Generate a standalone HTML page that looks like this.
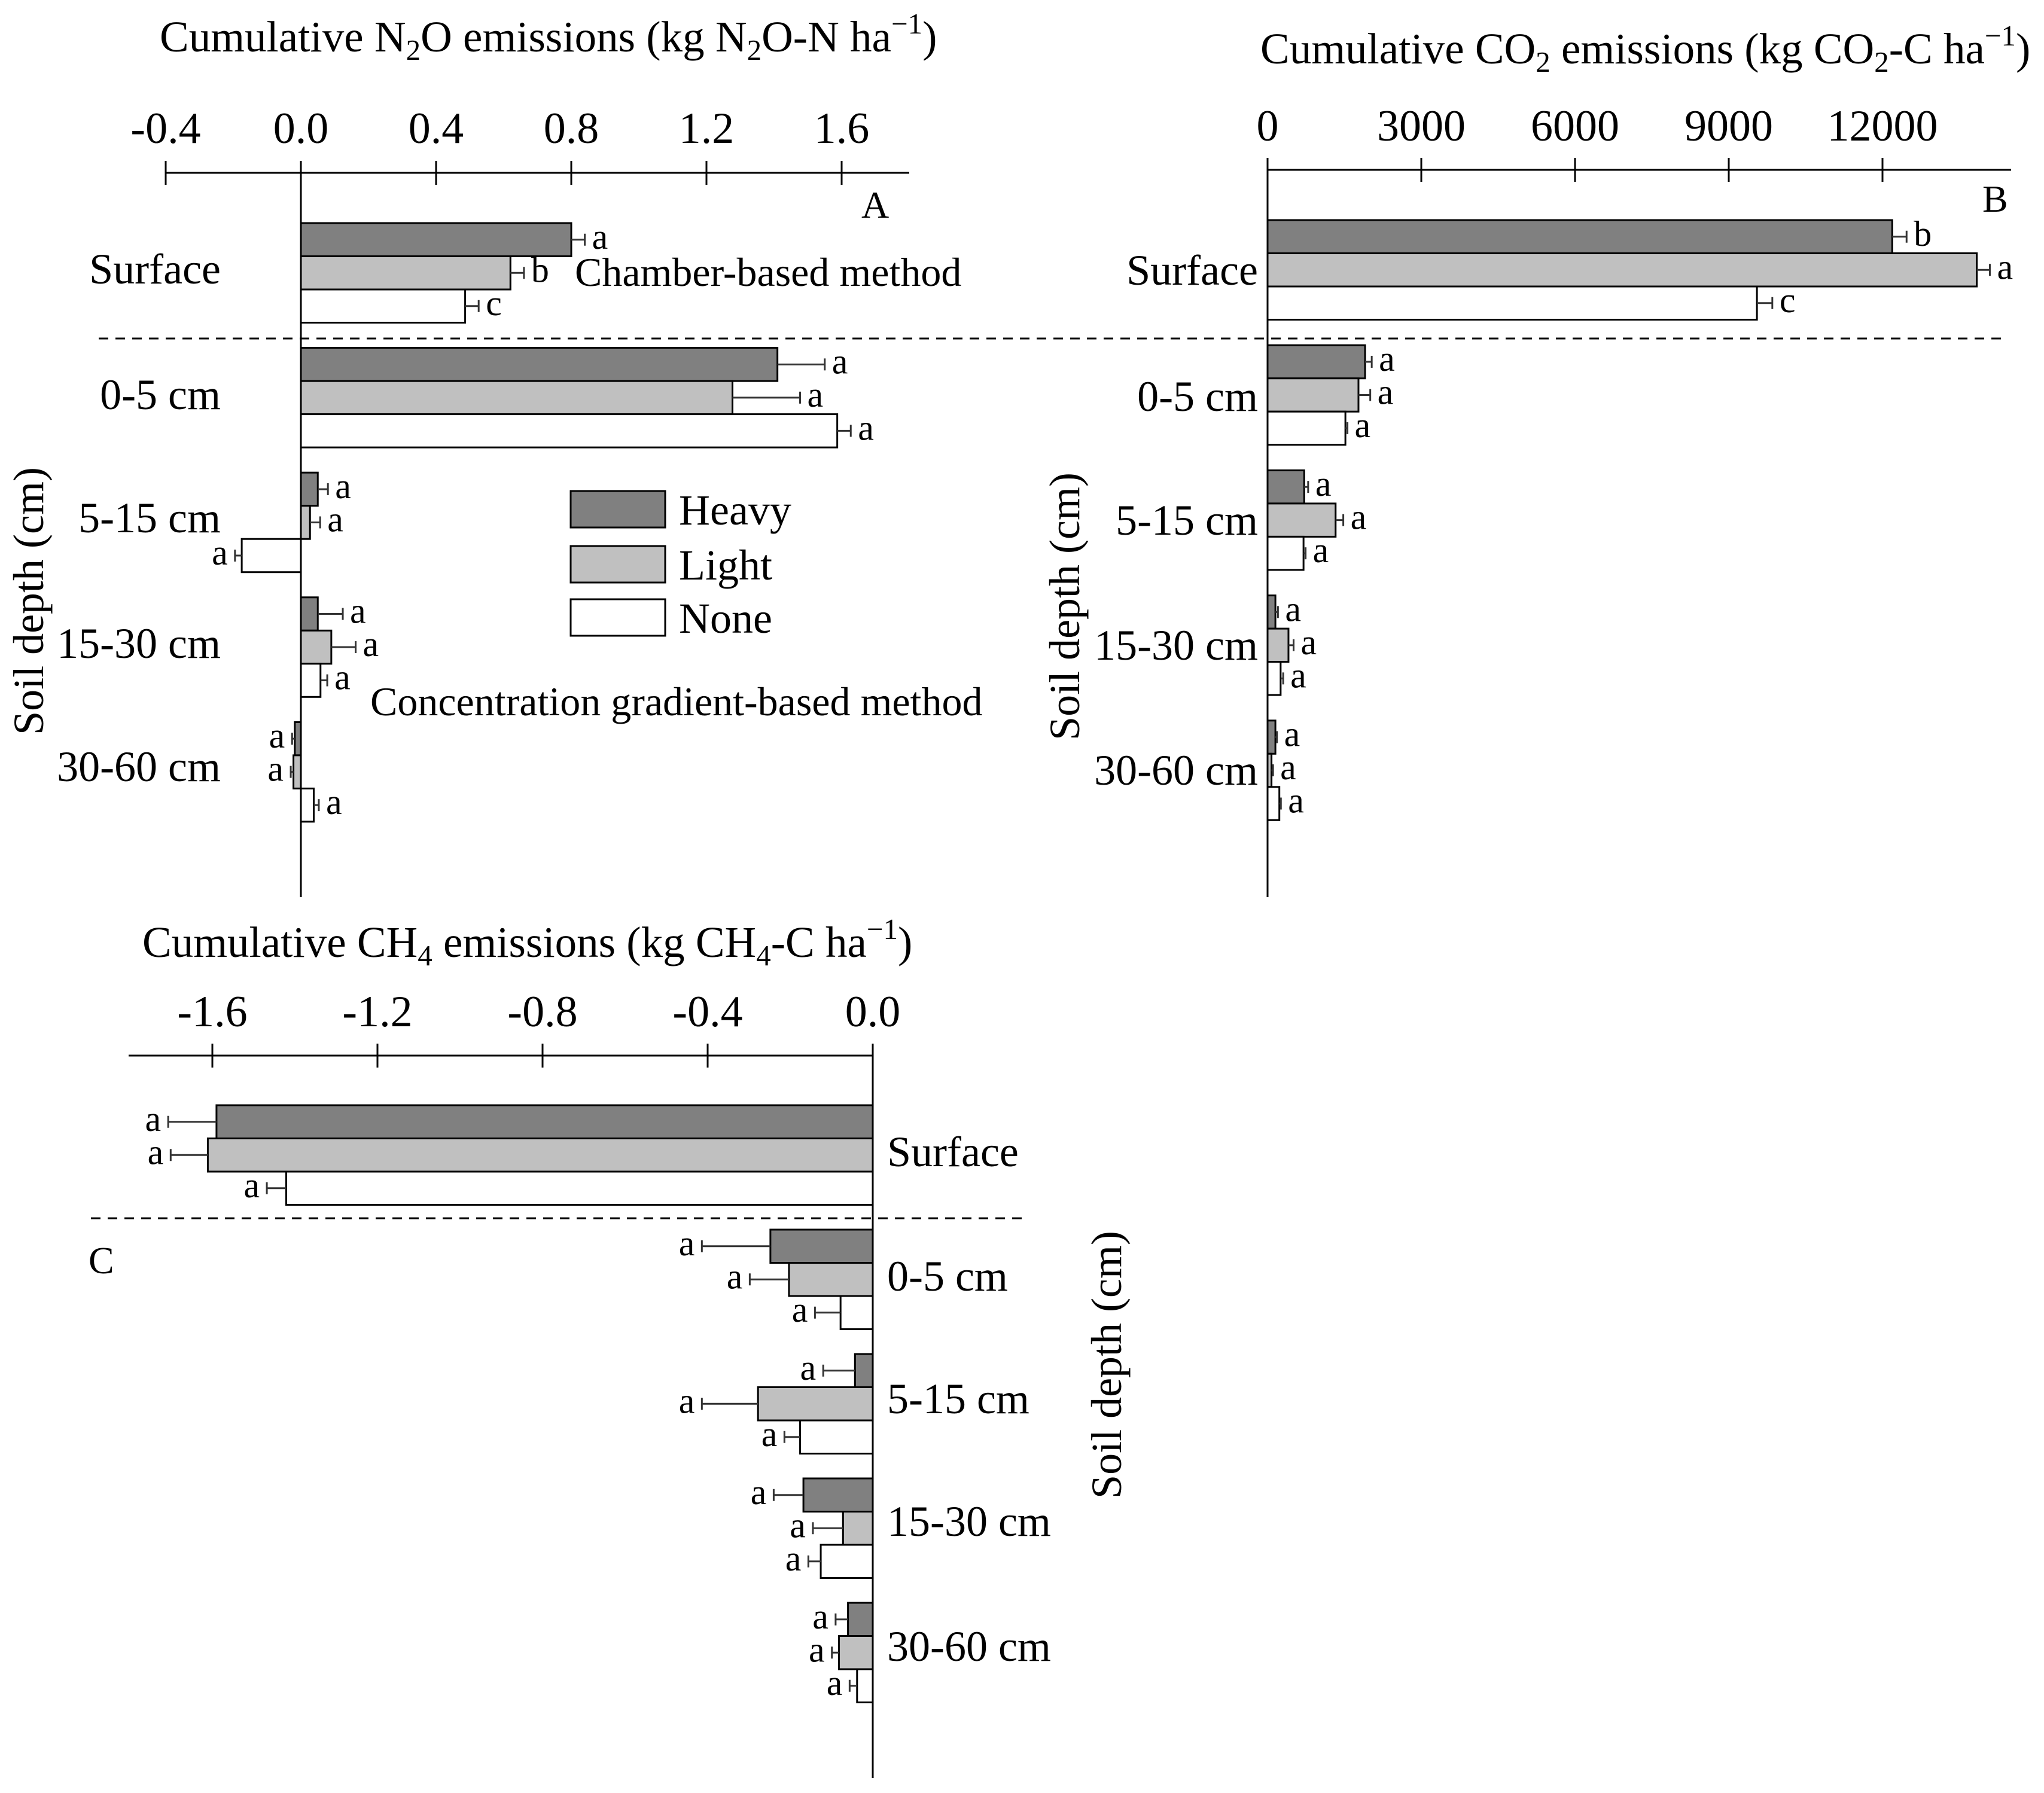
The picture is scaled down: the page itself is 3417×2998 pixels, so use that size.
<!DOCTYPE html>
<html><head><meta charset="utf-8"><style>
html,body{margin:0;padding:0;background:#fff;}
svg{display:block;}
text{font-family:"Liberation Serif","DejaVu Serif",serif;fill:#000;}
</style></head><body>
<svg id="chart" width="3417" height="2998" viewBox="0 0 3417 2998" xmlns="http://www.w3.org/2000/svg" font-family="Liberation Serif, DejaVu Serif, serif">
<rect x="0" y="0" width="3417" height="2998" fill="#fff"/>
<text x="267" y="86" font-size="73">Cumulative N<tspan font-size="49" dy="14">2</tspan><tspan dy="-14">O emissions (kg N</tspan><tspan font-size="49" dy="14">2</tspan><tspan dy="-14">O-N ha</tspan><tspan font-size="49" dy="-30">−1</tspan><tspan dy="30">)</tspan></text>
<text x="2107" y="106" font-size="73">Cumulative CO<tspan font-size="49" dy="14">2</tspan><tspan dy="-14"> emissions (kg CO</tspan><tspan font-size="49" dy="14">2</tspan><tspan dy="-14">-C ha</tspan><tspan font-size="49" dy="-30">−1</tspan><tspan dy="30">)</tspan></text>
<text x="238" y="1600" font-size="73">Cumulative CH<tspan font-size="49" dy="14">4</tspan><tspan dy="-14"> emissions (kg CH</tspan><tspan font-size="49" dy="14">4</tspan><tspan dy="-14">-C ha</tspan><tspan font-size="49" dy="-30">−1</tspan><tspan dy="30">)</tspan></text>
<text x="1440" y="364" font-size="64">A</text>
<text x="3314" y="354" font-size="64">B</text>
<text x="148" y="2129" font-size="64">C</text>
<text x="961" y="478" font-size="68">Chamber-based method</text>
<text x="619" y="1196" font-size="68">Concentration gradient-based method</text>
<text transform="translate(72,1005) rotate(-90)" text-anchor="middle" font-size="72">Soil depth (cm)</text>
<text transform="translate(1804,1014) rotate(-90)" text-anchor="middle" font-size="72">Soil depth (cm)</text>
<text transform="translate(1874,2282) rotate(-90)" text-anchor="middle" font-size="72">Soil depth (cm)</text>
<line x1="165" y1="566" x2="3345" y2="566" stroke="#000" stroke-width="3" stroke-dasharray="16,12"/>
<line x1="152" y1="2037" x2="1708" y2="2037" stroke="#000" stroke-width="3" stroke-dasharray="16,12"/>
<rect x="954" y="821" width="158" height="61" fill="#808080" stroke="#000" stroke-width="3"/>
<rect x="954" y="913" width="158" height="61" fill="#c0c0c0" stroke="#000" stroke-width="3"/>
<rect x="954" y="1002" width="158" height="61" fill="#fff" stroke="#000" stroke-width="3"/>
<text x="1135" y="877" font-size="72">Heavy</text>
<text x="1135" y="969" font-size="72">Light</text>
<text x="1135" y="1058" font-size="72">None</text>
</svg>
<script>
const categories = ["Surface","0-5 cm","5-15 cm","15-30 cm","30-60 cm"];
const seriesNames = ["Heavy","Light","None"];
const n2oHeavy = [0.80, 1.41, 0.05, 0.05, -0.018];
const n2oLight = [0.62, 1.277, 0.027, 0.09, -0.022];
const n2oNone = [0.486, 1.587, -0.175, 0.058, 0.038];
const n2oErrHeavy = [0.04, 0.14, 0.03, 0.074, 0.008];
const n2oErrLight = [0.04, 0.20, 0.03, 0.072, 0.008];
const n2oErrNone = [0.04, 0.04, 0.02, 0.02, 0.015];
const n2oLetters = [["a","b","c"],["a","a","a"],["a","a","a"],["a","a","a"],["a","a","a"]];
const n2oTicks = [-0.4, 0, 0.4, 0.8, 1.2, 1.6];
const n2oTickLabels = ["-0.4","0.0","0.4","0.8","1.2","1.6"];
const co2Heavy = [12190, 1903, 715, 153, 153];
const co2Light = [13840, 1774, 1328, 408, 77];
const co2None = [9550, 1519, 702, 255, 230];
const co2ErrHeavy = [280, 130, 77, 50, 30];
const co2ErrLight = [255, 230, 150, 100, 30];
const co2ErrNone = [300, 40, 40, 50, 30];
const co2Letters = [["b","a","c"],["a","a","a"],["a","a","a"],["a","a","a"],["a","a","a"]];
const co2Ticks = [0, 3000, 6000, 9000, 12000];
const co2TickLabels = ["0","3000","6000","9000","12000"];
const ch4Heavy = [-1.59, -0.248, -0.043, -0.168, -0.06];
const ch4Light = [-1.611, -0.203, -0.278, -0.072, -0.082];
const ch4None = [-1.421, -0.078, -0.176, -0.126, -0.038];
const ch4ErrHeavy = [0.117, 0.166, 0.077, 0.072, 0.03];
const ch4ErrLight = [0.09, 0.095, 0.136, 0.073, 0.017];
const ch4ErrNone = [0.047, 0.062, 0.038, 0.03, 0.018];
const ch4Letters = [["a","a","a"],["a","a","a"],["a","a","a"],["a","a","a"],["a","a","a"]];
const ch4Ticks = [-1.6, -1.2, -0.8, -0.4, 0];
const ch4TickLabels = ["-1.6","-1.2","-0.8","-0.4","0.0"];

const NS = "http://www.w3.org/2000/svg";
const svg = document.getElementById("chart");
const fills = ["#808080","#c0c0c0","#ffffff"];
function mk(tag, attrs){const e=document.createElementNS(NS,tag);for(const k in attrs)e.setAttribute(k,attrs[k]);svg.appendChild(e);return e;}

function panel(p){
  const sx = v => p.zeroX + v*p.ppu;
  const ax = mk("line",{x1:p.axX1,y1:p.axY,x2:p.axX2,y2:p.axY,stroke:"#000","stroke-width":3});
  
  
  p.ticks.forEach((t,i)=>{
    const tk = mk("line",{x1:sx(t),y1:p.axY-20,x2:sx(t),y2:p.axY+20,stroke:"#000","stroke-width":3});
    
    
    const tl = mk("text",{x:sx(t),y:p.tickY,"text-anchor":"middle","font-size":74});
    tl.textContent = p.tickLabels[i];
    
    
  });
  const zl = mk("line",{x1:p.zeroX,y1:p.axY-20,x2:p.zeroX,y2:p.zeroBottom,stroke:"#000","stroke-width":3});
  
  
  const series=[p.h,p.l,p.n], errs=[p.eh,p.el,p.en];
  categories.forEach((c,gi)=>{
    const top = p.top + gi*p.gap;
    const cl = mk("text",{x:p.catX,y:p.catY[gi],"text-anchor":p.catAnchor,"font-size":72});
    cl.textContent = c;
    
    
    for(let s=0;s<3;s++){
      const v=series[s][gi], e=errs[s][gi];
      const y=top+s*p.bh;
      const x0=Math.min(sx(0),sx(v)), w=Math.abs(sx(v)-sx(0));
      const r = mk("rect",{x:x0,y:y,width:Math.max(w,1),height:p.bh,fill:fills[s],stroke:"#000","stroke-width":3});
      
      
      const dir = v<0?-1:1;
      const ex = sx(v+dir*e), cy=y+p.bh/2;
      const el = mk("line",{x1:sx(v),y1:cy,x2:ex,y2:cy,stroke:"#333","stroke-width":3});
      
      
      const ec = mk("line",{x1:ex,y1:cy-10,x2:ex,y2:cy+10,stroke:"#333","stroke-width":3});
      
      
      const lt = mk("text",{x:ex+dir*12,y:cy+15,"text-anchor":dir<0?"end":"start","font-size":60});
      lt.textContent = p.letters[gi][s];
      
      
    }
  });
}
panel({id:"panel-a",zeroX:503,ppu:565,axY:289,axX1:276,axX2:1520,tickY:239,zeroBottom:1500,
  top:373,gap:208.6,bh:55.5,catX:369,catAnchor:"end",catY:[474,684,890,1100,1306],
  ticks:n2oTicks,tickLabels:n2oTickLabels,h:n2oHeavy,l:n2oLight,n:n2oNone,eh:n2oErrHeavy,el:n2oErrLight,en:n2oErrNone,letters:n2oLetters});
panel({id:"panel-b",zeroX:2119,ppu:257/3000,axY:284,axX1:2119,axX2:3362,tickY:235,zeroBottom:1500,
  top:368,gap:209.2,bh:55.5,catX:2103,catAnchor:"end",catY:[476,687,894,1103,1312],
  ticks:co2Ticks,tickLabels:co2TickLabels,h:co2Heavy,l:co2Light,n:co2None,eh:co2ErrHeavy,el:co2ErrLight,en:co2ErrNone,letters:co2Letters});
panel({id:"panel-c",zeroX:1459,ppu:690,axY:1765,axX1:215,axX2:1459,tickY:1716,zeroBottom:2973,
  top:1848,gap:208,bh:55.5,catX:1483,catAnchor:"start",catY:[1950,2158,2363,2568,2777],
  ticks:ch4Ticks,tickLabels:ch4TickLabels,h:ch4Heavy,l:ch4Light,n:ch4None,eh:ch4ErrHeavy,el:ch4ErrLight,en:ch4ErrNone,letters:ch4Letters});
</script>
</body></html>
